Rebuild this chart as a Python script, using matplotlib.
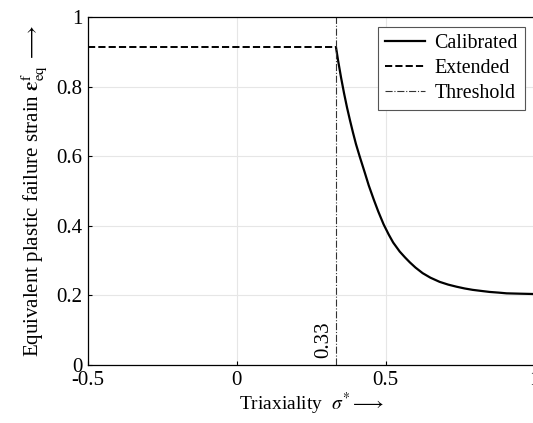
import numpy as np
import matplotlib
matplotlib.use('Agg')
import matplotlib.pyplot as plt

plt.rcParams['font.family'] = ['Liberation Serif', 'DejaVu Serif']
plt.rcParams['mathtext.fontset'] = 'stix'
plt.rcParams['axes.unicode_minus'] = False

# values
triax_cal = [0.333, 0.340, 0.350, 0.360, 0.370, 0.380, 0.390, 0.400, 0.413,
             0.430, 0.443, 0.460, 0.475, 0.493, 0.510, 0.525, 0.547, 0.565,
             0.581, 0.600, 0.624, 0.650, 0.681, 0.710, 0.738, 0.765, 0.792,
             0.820, 0.849, 0.880, 0.906, 0.950, 1.0]
strain_cal = [0.913, 0.875, 0.826, 0.781, 0.740, 0.703, 0.668, 0.635, 0.598,
              0.552, 0.516, 0.475, 0.441, 0.404, 0.375, 0.352, 0.326, 0.309,
              0.295, 0.280, 0.264, 0.251, 0.239, 0.231, 0.225, 0.220, 0.216,
              0.213, 0.210, 0.208, 0.206, 0.205, 0.204]
triax_ext = [-0.5, 0.333]
strain_ext = [0.913, 0.913]
threshold = 0.333

xticks = [-0.5, 0, 0.5, 1]
xticklabels = ['-0.5', '0', '0.5', '1']
yticks = [0, 0.2, 0.4, 0.6, 0.8, 1]
yticklabels = ['0', '0.2', '0.4', '0.6', '0.8', '1']

fig = plt.figure(figsize=(5.33, 4.23), dpi=100)
ax = fig.add_axes([0.165, 0.137, 0.838, 0.823])

ax.plot(triax_cal, strain_cal, 'k-', lw=1.6, label='Calibrated')
ax.plot(triax_ext, strain_ext, 'k--', lw=1.4, label='Extended')
ax.axvline(threshold, color='#333333', ls='-.', lw=0.8, label='Threshold')
ax.text(threshold - 0.01, 0.02, '0.33', rotation=90, ha='right', va='bottom', fontsize=15)

ax.set_xlim(-0.5, 1)
ax.set_ylim(0, 1)
ax.set_xticks(xticks)
ax.set_xticklabels(xticklabels)
ax.set_yticks(yticks)
ax.set_yticklabels(yticklabels)
ax.tick_params(direction='in', length=3, width=0.8, labelsize=15, pad=4)
ax.grid(True, color='#e6e6e6', lw=0.8)
ax.set_axisbelow(True)
for s in ax.spines.values():
    s.set_linewidth(0.9)

ax.set_xlabel(r'Triaxiality  $\sigma^{*}\longrightarrow$', fontsize=14, labelpad=1)
ax.set_ylabel(r'Equivalent plastic failure strain $\boldsymbol{\varepsilon}_{\rm eq}^{\rm f}\;\longrightarrow$',
              fontsize=15, labelpad=5)

leg = ax.legend(loc='upper right', fontsize=14.4, fancybox=False, edgecolor='#555555',
                framealpha=1, handlelength=2.0, handletextpad=0.45,
                borderaxespad=0.5, labelspacing=0.3, borderpad=0.35)
leg.get_frame().set_linewidth(0.8)

fig.savefig('out.png', dpi=100)
